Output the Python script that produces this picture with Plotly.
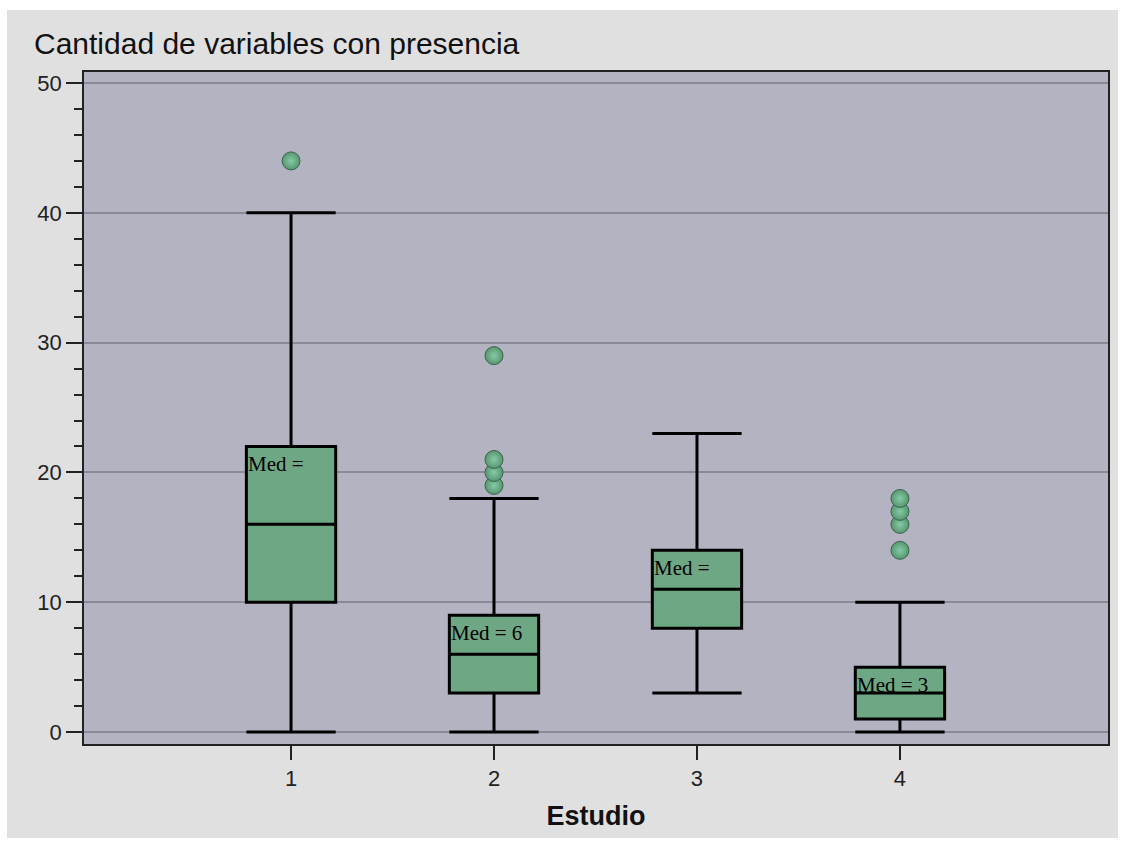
import plotly.graph_objects as go

# Five-number summaries per study
studies = [1, 2, 3, 4]
q1 = [10, 3, 8, 1]
medians = [16, 6, 11, 3]
q3 = [22, 9, 14, 5]
lower_whisker = [0, 0, 3, 0]
upper_whisker = [40, 18, 23, 10]

# Outlying observations per study
outliers = {
    1: [44],
    2: [19, 20, 21, 29],
    3: [],
    4: [14, 16, 17, 18],
}

y_ticks = [0, 10, 20, 30, 40, 50]
x_tick_labels = ["1", "2", "3", "4"]

BOX_WIDTH = 0.44
BOX_FILL = "#6ea784"
PLOT_BG = "#b3b3c1"
OUTER_BG = "#e0e0e0"

fig = go.Figure()

for s, a, m, b, lo, hi in zip(studies, q1, medians, q3, lower_whisker, upper_whisker):
    fig.add_trace(go.Box(
        x=[s], q1=[a], median=[m], q3=[b], lowerfence=[lo], upperfence=[hi],
        width=BOX_WIDTH, whiskerwidth=1, boxpoints=False,
        fillcolor=BOX_FILL, line=dict(color="black", width=3),
        showlegend=False, hoverinfo="skip",
    ))

out_x, out_y = [], []
for s in studies:
    for v in outliers[s]:
        out_x.append(s)
        out_y.append(v)

fig.add_trace(go.Scatter(
    x=out_x, y=out_y, mode="markers", showlegend=False,
    marker=dict(size=18, color="#56966f",
                gradient=dict(type="radial", color="#86cba6"),
                line=dict(width=1, color="#3c6450")),
))

# Median labels sit in the upper-left corner of each box; a label that
# would overflow the box keeps only its "Med =" prefix.
for s, m, b in zip(studies, medians, q3):
    text = f"Med = {m}" if m < 10 else "Med ="
    fig.add_annotation(
        x=s - BOX_WIDTH / 2, y=b, xref="x", yref="y",
        text=text, showarrow=False, xanchor="left", yanchor="top",
        xshift=0, yshift=-4,
        font=dict(family="Liberation Serif", size=21, color="black"),
    )

# Outer grey panel and plot-area fill
fig.add_shape(type="rect", xref="paper", yref="paper",
              x0=-0.0752, x1=1.0098, y0=-0.1399, y1=1.0923,
              fillcolor=OUTER_BG, line=dict(width=0), layer="below")
fig.add_shape(type="rect", xref="paper", yref="paper",
              x0=0, x1=1, y0=0, y1=1,
              fillcolor=PLOT_BG, line=dict(width=0), layer="below")

fig.update_layout(
    width=1124, height=841,
    margin=dict(l=84, r=16, t=72, b=97),
    paper_bgcolor="white",
    plot_bgcolor="rgba(0,0,0,0)",
    title=dict(
        text="Cantidad de variables con presencia",
        x=34 / 1124, xref="container", xanchor="left",
        y=1 - 43 / 841, yref="container", yanchor="middle",
        font=dict(family="Liberation Sans", size=30, color="#111"),
    ),
    font=dict(family="Liberation Sans", color="#222"),
)

fig.update_xaxes(
    range=[-0.02, 5.025],
    tickvals=studies, ticktext=x_tick_labels,
    ticks="outside", ticklen=14, tickwidth=1.5, tickcolor="#222",
    tickfont=dict(size=22, color="#222"),
    showgrid=False, zeroline=False,
    showline=True, linecolor="#222", linewidth=1.5, mirror=True,
    title=dict(text="<b>Estudio</b>", standoff=16,
               font=dict(family="Liberation Sans", size=27, color="#111")),
)

fig.update_yaxes(
    range=[-0.92, 50.85],
    tickvals=y_ticks,
    ticks="outside", ticklen=16, tickwidth=1.5, tickcolor="#222",
    tickfont=dict(size=22, color="#222"),
    minor=dict(dtick=2, ticks="outside", ticklen=8, tickwidth=1.5,
               tickcolor="#222", showgrid=False),
    showgrid=True, gridcolor="#8a8a96", gridwidth=1.5,
    zeroline=False,
    showline=True, linecolor="#222", linewidth=1.5, mirror=True,
)

fig.write_html("out.html")
